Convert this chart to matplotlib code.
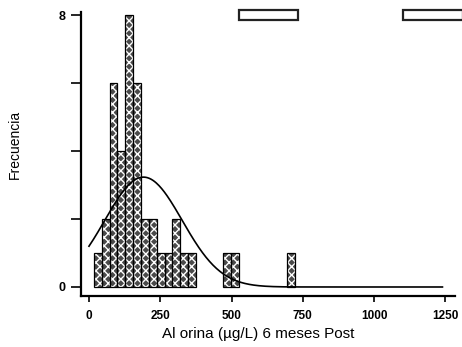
import matplotlib
matplotlib.use("Agg")
import matplotlib.pyplot as plt
from matplotlib.patches import Rectangle
import numpy as np

# histogram of urinary Al at 6 months (left bin edges, counts per bin)
bin_width = 27.5
bin_lo = [17.5, 45, 72.5, 100, 127.5, 155, 182.5, 210, 237.5, 265,
          292.5, 320, 347.5, 470, 497.5, 695]
counts = [1, 2, 6, 4, 8, 6, 2, 2, 1, 1, 2, 1, 1, 1, 1, 1]

x_ticks = [0, 250, 500, 750, 1000, 1250]
y_ticks = [0, 2, 4, 6, 8]
y_ticklabels = ["0", "", "", "", "8"]

plt.rcParams['font.family'] = ['Liberation Sans', 'DejaVu Sans']

fig = plt.figure(figsize=(4.62, 3.47), dpi=100)
W, H = 462.0, 347.0
ax = fig.add_axes([81 / W, 1 - 296 / H, (455 - 81) / W, (296 - 12) / H])

# bars: grey fill with white stipple, black outline on top
ax.bar(bin_lo, counts, width=bin_width, align='edge', color='#4a4a4a',
       edgecolor='white', linewidth=0, hatch='xxxx', zorder=2)
ax.bar(bin_lo, counts, width=bin_width, align='edge', fill=False,
       edgecolor='black', linewidth=0.9, zorder=3)

# normal curve fitted to the binned values
centers = np.array(bin_lo) + bin_width / 2
n = np.array(counts, dtype=float)
mu = np.sum(centers * n) / n.sum()
sd = np.sqrt(np.sum(n * (centers - mu) ** 2) / (n.sum() - 1))
xs = np.linspace(0, 1240, 400)
ys = n.sum() * bin_width / (sd * np.sqrt(2 * np.pi)) * np.exp(-0.5 * ((xs - mu) / sd) ** 2)
ax.plot(xs, ys, color='black', linewidth=1.2, zorder=4)

ax.set_xlim(-28, 1284)
ax.set_ylim(-0.265, 8.09)
ax.set_xticks(x_ticks)
ax.set_xticklabels([str(t) for t in x_ticks], fontsize=8.5, fontweight='bold')
ax.set_yticks(y_ticks)
ax.set_yticklabels(y_ticklabels, fontsize=9, fontweight='bold')
ax.tick_params(axis='x', direction='out', length=4, width=1.2, pad=6)
ax.tick_params(axis='y', direction='out', length=7, width=1.2, pad=4)

for side in ['top', 'right']:
    ax.spines[side].set_visible(False)
for side in ['left', 'bottom']:
    ax.spines[side].set_linewidth(1.6)

fig.text(258 / W, 1 - 334 / H, "Al orina (µg/L) 6 meses Post",
         ha='center', va='center', fontsize=11)
fig.text(15 / W, 1 - 144 / H, "Frecuencia", rotation=90,
         ha='center', va='center', fontsize=10)

# blank boxes along the top edge
for x0, x1 in [(239, 298), (403, 463)]:
    fig.patches.append(Rectangle((x0 / W, 1 - 20 / H), (x1 - x0) / W, 10 / H,
                                 transform=fig.transFigure, fill=False,
                                 edgecolor='#222222', linewidth=1.6))

fig.savefig("out.png", dpi=100)
